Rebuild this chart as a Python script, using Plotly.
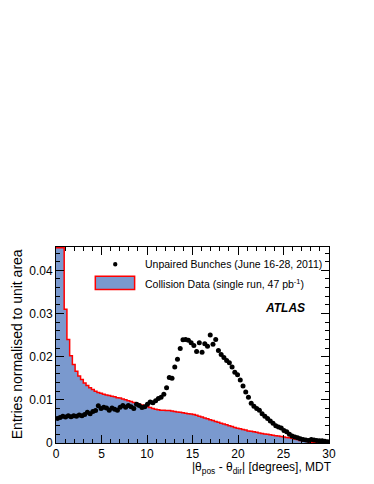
import plotly.graph_objects as go

# bin edges: 100 bins of 0.3 degrees from 0 to 30
bin_width = 0.3
n_bins = 100

# Collision Data histogram (first bins are off-scale, shown clipped at the top)
collision = [
    0.0452, 0.0452, 0.0452, 0.0310, 0.0240, 0.0202, 0.0182, 0.0166, 0.0155, 0.0147,
    0.0139, 0.0133, 0.0128, 0.0124, 0.0120, 0.0117, 0.0115, 0.0113, 0.0111, 0.0110,
    0.0108, 0.0107, 0.0105, 0.0104, 0.0102, 0.0100, 0.0098, 0.0096, 0.0094, 0.0092,
    0.0090, 0.0088, 0.0086, 0.0084, 0.0082, 0.0080, 0.0078, 0.0077, 0.0076, 0.0076,
    0.0075, 0.0075, 0.0074, 0.0073, 0.0072, 0.0071, 0.0070, 0.0069, 0.0068, 0.0067,
    0.0066, 0.0064, 0.0062, 0.0060, 0.0058, 0.0056, 0.0054, 0.0052, 0.0050, 0.0048,
    0.0046, 0.0044, 0.0042, 0.0040, 0.0038, 0.0036, 0.0034, 0.0033, 0.0031, 0.0030,
    0.0028, 0.0027, 0.0026, 0.0025, 0.0023, 0.0022, 0.0021, 0.0020, 0.0019, 0.0018,
    0.0017, 0.0016, 0.0015, 0.0014, 0.0013, 0.0012, 0.0011, 0.0009, 0.0008, 0.0006,
    0.0005, 0.0004, 0.0003, 0.0002, 0.00015, 0.0001, 0.0001, 0.00008, 0.00005, 0.00005,
]

# Unpaired Bunches points (bin centres)
unpaired = [
    0.0057, 0.0059, 0.0062, 0.0060, 0.0063, 0.0061, 0.0063, 0.0062, 0.0065, 0.0063,
    0.0066, 0.0071, 0.0068, 0.0073, 0.0075, 0.0086, 0.0080, 0.0083, 0.0081, 0.0076,
    0.0081, 0.0078, 0.0076, 0.0083, 0.0087, 0.0083, 0.0087, 0.0084, 0.0080, 0.0090,
    0.0087, 0.0082, 0.0084, 0.0090, 0.0095, 0.0093, 0.0098, 0.0103, 0.0106, 0.0113,
    0.0128, 0.0152, 0.0150, 0.0176, 0.0194, 0.0219, 0.0239, 0.0240, 0.0238, 0.0232,
    0.0226, 0.0212, 0.0232, 0.0210, 0.0230, 0.0224, 0.0250, 0.0229, 0.0240, 0.0214,
    0.0205, 0.0198, 0.0191, 0.0186, 0.0176, 0.0164, 0.0158, 0.0146, 0.0132, 0.0118,
    0.0106, 0.0092, 0.0085, 0.0080, 0.0076, 0.0068, 0.0062, 0.0057, 0.0051, 0.0046,
    0.0040, 0.0037, 0.0035, 0.0029, 0.0026, 0.0020, 0.0016, 0.0014, 0.0012, 0.0010,
    0.0008, 0.0007, 0.0006, 0.0008, 0.0007, 0.0006, 0.0005, 0.0005, 0.0004, 0.0003,
]

label_unpaired = "Unpaired Bunches (June 16-28, 2011)"
label_collision = "Collision Data (single run, 47 pb<sup>-1</sup>)"

edges = [i * bin_width for i in range(n_bins + 1)]
centres = [(i + 0.5) * bin_width for i in range(n_bins)]

FONT = "Liberation Sans, Arial, sans-serif"
FILL = "#7a99ce"

fig = go.Figure()

# histogram as step line, filled to zero
fig.add_trace(go.Scatter(
    x=edges, y=collision + [collision[-1]],
    mode="lines", line=dict(color="red", width=1.5, shape="hv"),
    fill="tozeroy", fillcolor=FILL, showlegend=False,
))

fig.add_trace(go.Scatter(
    x=centres, y=unpaired, mode="markers",
    marker=dict(color="black", size=5, symbol="circle"),
    showlegend=False,
))

axis_common = dict(
    showline=True, linecolor="black", linewidth=1, mirror="ticks",
    ticks="inside", ticklen=8, tickcolor="black", showgrid=False, zeroline=False,
    tickfont=dict(family=FONT, size=12, color="black"), automargin=False,
)

fig.update_xaxes(
    range=[0, 30], dtick=5, tick0=0,
    minor=dict(ticks="inside", ticklen=4, dtick=1, tickcolor="black", showgrid=False),
    **axis_common,
)
fig.update_yaxes(
    range=[0, 0.0454], dtick=0.01, tick0=0,
    minor=dict(ticks="inside", ticklen=4, dtick=0.002, tickcolor="black", showgrid=False),
    **axis_common,
)

# manual legend
fig.add_shape(type="circle", xref="paper", yref="paper",
              x0=0.209, x1=0.225, y0=0.900, y1=0.924,
              fillcolor="black", line=dict(color="black", width=0))
fig.add_shape(type="rect", xref="paper", yref="paper",
              x0=0.144, x1=0.288, y0=0.783, y1=0.851,
              fillcolor=FILL, line=dict(color="red", width=1.5))

annotations = [
    dict(text=label_unpaired, x=0.318, y=0.912, xanchor="left", yanchor="middle",
         font=dict(family=FONT, size=10.5, color="black")),
    dict(text=label_collision, x=0.318, y=0.814, xanchor="left", yanchor="middle",
         font=dict(family=FONT, size=10.5, color="black")),
    dict(text="<b><i>ATLAS</i></b>", x=0.757, y=0.687, xanchor="left", yanchor="middle",
         font=dict(family=FONT, size=12, color="black")),
    dict(text="Entries normalised to unit area", x=-0.142, y=1.0, textangle=-90,
         xanchor="center", yanchor="top",
         font=dict(family=FONT, size=14, color="black")),
    dict(text="|θ<sub>pos</sub> - θ<sub>dir</sub>| [degrees], MDT", x=1.018, y=-0.125,
         xanchor="right", yanchor="middle",
         font=dict(family=FONT, size=12, color="black")),
]
for a in annotations:
    fig.add_annotation(xref="paper", yref="paper", showarrow=False, **a)

# the page adds an 8px body margin, so the figure is 8px smaller each way
fig.update_layout(
    width=366, height=476,
    margin=dict(l=48, r=45, t=239, b=41),
    plot_bgcolor="white", paper_bgcolor="white",
    font=dict(family=FONT, color="black"),
)

fig.write_html("out.html")
